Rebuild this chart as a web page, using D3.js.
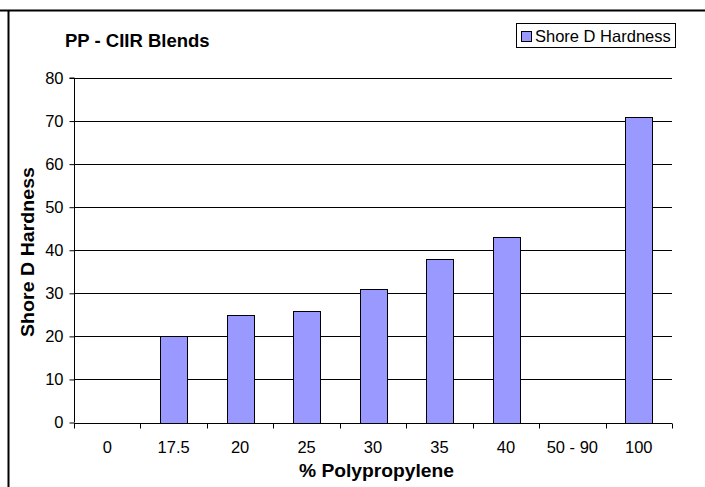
<!DOCTYPE html>
<html><head><meta charset="utf-8">
<script src="https://cdn.jsdelivr.net/npm/d3@7"></script>
<style>body{margin:0;background:#fff;} svg{display:block;font-family:"Liberation Sans",Arial,sans-serif;}</style>
</head><body>
<svg id="c" width="705" height="487"></svg>
<script>
const categories = ["0","17.5","20","25","30","35","40","50 - 90","100"];
const hardness = [null,20,25,26,31,38,43,null,71];
const yTicks = [0,10,20,30,40,50,60,70,80];
const seriesName = "Shore D Hardness";

const svg = d3.select("#c");
const L=74, R=672, T=78, B=422.5;
const x = d3.scaleBand().domain(categories).range([L,R]).paddingInner(0).paddingOuter(0);
const y = d3.scaleLinear().domain([0,80]).range([B,T]);
const FF = "Liberation Sans, Arial, sans-serif";

// frame lines
svg.append("line").attr("x1",0).attr("x2",705).attr("y1",10.5).attr("y2",10.5).attr("stroke","#000").attr("stroke-width",2);
svg.append("line").attr("x1",8.5).attr("x2",8.5).attr("y1",10).attr("y2",487).attr("stroke","#000").attr("stroke-width",2);

// gridlines
svg.append("g").selectAll("line").data(yTicks.filter(d=>d>0)).join("line")
  .attr("x1",L).attr("x2",R).attr("y1",d=>Math.round(y(d))+0.5).attr("y2",d=>Math.round(y(d))+0.5)
  .attr("stroke","#000").attr("stroke-width",1);

// bars
const bw = x.bandwidth()/2.5;
svg.append("g").selectAll("rect").data(categories.map((c,i)=>({c,v:hardness[i]})).filter(d=>d.v!=null)).join("rect")
  .attr("x",d=>Math.round(x(d.c)+x.bandwidth()/2-bw/2)+0.5)
  .attr("y",d=>Math.round(y(d.v))+0.5)
  .attr("width",Math.round(bw))
  .attr("height",d=>Math.round(B)-Math.round(y(d.v)))
  .attr("fill","#9999FF").attr("stroke","#000").attr("stroke-width",1);

// y axis
const yAxis = d3.axisLeft(y).tickValues(yTicks).tickSize(5).tickPadding(6).tickFormat(d3.format("d"));
const gy = svg.append("g").attr("transform",`translate(${L+0.5},0)`).call(yAxis);
gy.attr("font-size",16.5).attr("font-family",FF);
gy.select(".domain").attr("d",`M-5,${T}H0V${B}`).attr("stroke","#000");
gy.selectAll(".tick line").attr("stroke","#000");
gy.selectAll("text").attr("fill","#000");

// x axis
const xAxis = d3.axisBottom(x).tickSize(0).tickPadding(18);
const gx = svg.append("g").attr("transform",`translate(0,${Math.round(B)+0.5})`).call(xAxis);
gx.attr("font-size",16.5).attr("font-family",FF);
gx.select(".domain").attr("d",`M${L},0H${R}`).attr("stroke","#000");
gx.selectAll("text").attr("fill","#000");
const edges = categories.map(c=>x(c)).concat([R]);
gx.append("g").selectAll("line").data(edges).join("line")
  .attr("x1",d=>Math.round(d)+0.5).attr("x2",d=>Math.round(d)+0.5).attr("y1",0).attr("y2",5).attr("stroke","#000");

// title
svg.append("text").attr("x",65).attr("y",46.5).attr("font-size",18.5).attr("font-weight","bold").text("PP - CIIR Blends");
// axis titles
svg.append("text").attr("x",376.5).attr("y",477).attr("text-anchor","middle").attr("font-size",17.5).attr("font-weight","bold")
  .attr("textLength",155).attr("lengthAdjust","spacingAndGlyphs").text("% Polypropylene");
svg.append("text").attr("transform",`translate(34,252) rotate(-90)`).attr("text-anchor","middle").attr("font-size",17.5).attr("font-weight","bold")
  .attr("textLength",170).attr("lengthAdjust","spacingAndGlyphs").text("Shore D Hardness");

// legend
const lg = svg.append("g");
lg.append("rect").attr("x",516.5).attr("y",23.5).attr("width",159).attr("height",24).attr("fill","#fff").attr("stroke","#000");
lg.append("rect").attr("x",521.5).attr("y",31.5).attr("width",10).attr("height",10).attr("fill","#9999FF").attr("stroke","#000");
lg.append("text").attr("x",535).attr("y",42).attr("font-size",16.5).text(seriesName);
</script>
</body></html>
